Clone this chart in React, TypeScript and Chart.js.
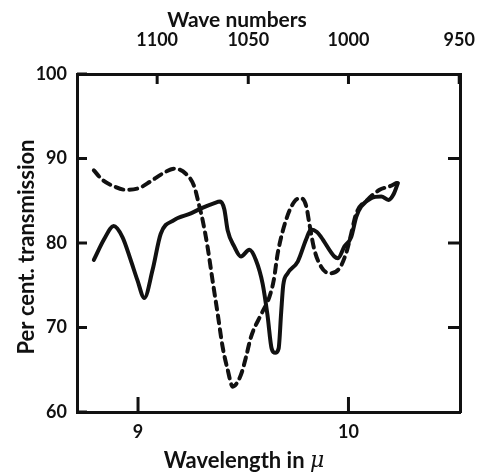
import React, { useEffect, useRef } from "react";
import { Chart, registerables } from "chart.js";

Chart.register(...registerables);

// Wavelength (μ) and per cent transmission, solid curve
const SOLID_WAVELENGTH = [
  8.79, 8.84, 8.884, 8.926, 8.965, 8.997, 9.03, 9.069, 9.108, 9.171, 9.251, 9.3,
  9.36, 9.39, 9.41, 9.426, 9.457, 9.489, 9.529, 9.56, 9.592, 9.615, 9.635, 9.652,
  9.668, 9.68, 9.69, 9.711, 9.759, 9.8, 9.822, 9.85, 9.87, 9.933, 9.95, 9.981,
  10.013, 10.037, 10.06, 10.108, 10.156, 10.19, 10.215, 10.235,
];
const SOLID_TRANSMISSION = [
  78.0, 80.5, 82.0, 80.7, 78.0, 75.6, 73.5, 76.8, 81.1, 82.7, 83.5, 84.1,
  84.7, 84.9, 84.0, 81.5, 79.6, 78.4, 79.2, 78.0, 75.2, 71.5, 67.5, 67.0,
  67.5, 71.7, 75.0, 76.4, 77.8, 80.5, 81.6, 81.3, 80.7, 78.4, 78.2, 79.6,
  80.7, 83.1, 84.3, 85.3, 85.5, 85.1, 85.8, 87.1,
];

// Dashed curve
const DASHED_WAVELENGTH = [
  8.79, 8.83, 8.886, 8.94, 9.005, 9.06, 9.116, 9.171, 9.227, 9.267, 9.29, 9.307,
  9.33, 9.354, 9.378, 9.402, 9.426, 9.45, 9.489, 9.513, 9.537, 9.584, 9.624,
  9.645, 9.664, 9.703, 9.743, 9.775, 9.8, 9.814, 9.838, 9.87, 9.91, 9.957,
  9.989, 10.013, 10.037, 10.09, 10.148, 10.195, 10.227,
];
const DASHED_TRANSMISSION = [
  88.6, 87.5, 86.7, 86.3, 86.5, 87.3, 88.2, 88.8, 88.2, 86.7, 84.5, 82.7,
  79.6, 75.6, 71.7, 67.7, 65.0, 63.0, 64.4, 66.5, 68.9, 71.5, 73.6,
  75.6, 78.8, 82.7, 84.9, 85.3, 84.3, 82.3, 79.2, 77.2, 76.4, 77.0,
  78.8, 81.1, 83.5, 85.1, 86.3, 86.7, 87.1,
];

const WAVELENGTH_TICKS = [9, 10];
const WAVE_NUMBER_TICKS = [1100, 1050, 1000, 950];
const TRANSMISSION_TICKS = [60, 70, 80, 90, 100];
const RIGHT_TICKS = [70, 80, 90];

const X_MIN = 8.71;
const X_MAX = 10.53;
const Y_MIN = 60;
const Y_MAX = 100;

const TOP_TITLE = "Wave numbers";
const BOTTOM_TITLE_TEXT = "Wavelength in ";
const BOTTOM_TITLE_UNIT = "μ";
const LEFT_TITLE = "Per cent. transmission";

const FONT_FAMILY = "Lato, 'Open Sans', sans-serif";
const INK = "#111";

const titlesPlugin = {
  id: "freeTitles",
  afterDraw(chart: any) {
    const ctx = chart.ctx;
    ctx.save();
    ctx.fillStyle = INK;
    ctx.textBaseline = "middle";
    ctx.textAlign = "center";
    ctx.font = `bold 21px ${FONT_FAMILY}`;
    ctx.fillText(TOP_TITLE, 237, 20);

    // bottom title: upright text followed by italic unit
    const fontMain = `bold 22px ${FONT_FAMILY}`;
    const fontUnit = `italic 22px 'DejaVu Serif', serif`;
    ctx.font = fontMain;
    const w1 = ctx.measureText(BOTTOM_TITLE_TEXT).width;
    ctx.font = fontUnit;
    const w2 = ctx.measureText(BOTTOM_TITLE_UNIT).width;
    const startX = 244 - (w1 + w2) / 2;
    ctx.textAlign = "left";
    ctx.font = fontMain;
    ctx.fillText(BOTTOM_TITLE_TEXT, startX, 461);
    ctx.font = fontUnit;
    ctx.fillText(BOTTOM_TITLE_UNIT, startX + w1, 461);

    ctx.textAlign = "center";
    ctx.font = fontMain;
    ctx.translate(27, 247);
    ctx.rotate(-Math.PI / 2);
    ctx.fillText(LEFT_TITLE, 0, 0);
    ctx.restore();
  },
};

const inwardTicksPlugin = {
  id: "inwardTicks",
  afterDatasetsDraw(chart: any) {
    const { ctx, scales, chartArea } = chart;
    const line = (x1: number, y1: number, x2: number, y2: number) => {
      ctx.beginPath();
      ctx.moveTo(x1, y1);
      ctx.lineTo(x2, y2);
      ctx.stroke();
    };
    ctx.save();
    ctx.strokeStyle = INK;
    ctx.lineWidth = 3;
    WAVELENGTH_TICKS.forEach((v) => {
      const px = scales.x.getPixelForValue(v);
      line(px, chartArea.bottom, px, chartArea.bottom - 15);
    });
    WAVE_NUMBER_TICKS.forEach((w) => {
      const px = scales.x2.getPixelForValue(10000 / w);
      line(px, chartArea.top, px, chartArea.top + 10);
    });
    TRANSMISSION_TICKS.forEach((v) => {
      const py = scales.y.getPixelForValue(v);
      line(chartArea.left, py, chartArea.left + 10, py);
    });
    RIGHT_TICKS.forEach((v) => {
      const py = scales.y2.getPixelForValue(v);
      line(chartArea.right, py, chartArea.right - 12, py);
    });
    ctx.restore();
  },
};

function toPoints(xs: number[], ys: number[]) {
  return xs.map((x, i) => ({ x, y: ys[i] }));
}

const axisBase = {
  border: { display: true, color: INK, width: 3 },
  grid: { drawOnChartArea: false, drawTicks: false },
};

function fixSize(prop: "width" | "height", size: number) {
  return (s: any) => {
    s[prop] = size;
    s.paddingLeft = 0;
    s.paddingRight = 0;
    s.paddingTop = 0;
    s.paddingBottom = 0;
  };
}

export default function App() {
  const ref = useRef<HTMLCanvasElement | null>(null);

  useEffect(() => {
    if (!ref.current) return;
    const chart = new Chart(ref.current, {
      type: "line",
      data: {
        datasets: [
          {
            label: "solid",
            data: toPoints(SOLID_WAVELENGTH, SOLID_TRANSMISSION),
            borderColor: INK,
            borderWidth: 4,
            pointRadius: 0,
            cubicInterpolationMode: "monotone",
            borderCapStyle: "round",
            borderJoinStyle: "round",
            fill: false,
          },
          {
            label: "dashed",
            data: toPoints(DASHED_WAVELENGTH, DASHED_TRANSMISSION),
            borderColor: INK,
            borderWidth: 4,
            borderDash: [8, 6],
            pointRadius: 0,
            cubicInterpolationMode: "monotone",
            borderCapStyle: "round",
            fill: false,
          },
        ],
      },
      options: {
        animation: false,
        responsive: false,
        devicePixelRatio: 1,
        layout: { padding: 0 },
        plugins: {
          legend: { display: false },
          tooltip: { enabled: false },
          title: { display: false },
        },
        scales: {
          x: {
            type: "linear",
            position: "bottom",
            min: X_MIN,
            max: X_MAX,
            ...axisBase,
            afterBuildTicks: (s: any) => {
              s.ticks = WAVELENGTH_TICKS.map((v) => ({ value: v }));
            },
            afterFit: fixSize("height", 60),
            ticks: {
              color: INK,
              padding: 9,
              font: { family: FONT_FAMILY, size: 18, weight: "bold" },
              callback: (v: any) => String(v),
            },
          },
          x2: {
            type: "linear",
            position: "top",
            min: X_MIN,
            max: X_MAX,
            ...axisBase,
            afterBuildTicks: (s: any) => {
              s.ticks = WAVE_NUMBER_TICKS.map((w) => ({ value: 10000 / w }));
            },
            afterFit: fixSize("height", 74),
            ticks: {
              color: INK,
              padding: 23,
              font: { family: FONT_FAMILY, size: 18, weight: "bold" },
              callback: (v: any) => String(Math.round(10000 / v)),
            },
          },
          y: {
            type: "linear",
            position: "left",
            min: Y_MIN,
            max: Y_MAX,
            ...axisBase,
            afterBuildTicks: (s: any) => {
              s.ticks = TRANSMISSION_TICKS.map((v) => ({ value: v }));
            },
            afterFit: fixSize("width", 77),
            ticks: {
              color: INK,
              padding: 10,
              font: { family: FONT_FAMILY, size: 18, weight: "bold" },
              callback: (v: any) => String(v),
            },
          },
          y2: {
            type: "linear",
            position: "right",
            min: Y_MIN,
            max: Y_MAX,
            ...axisBase,
            afterBuildTicks: (s: any) => {
              s.ticks = RIGHT_TICKS.map((v) => ({ value: v }));
            },
            afterFit: fixSize("width", 17),
            ticks: { display: false },
          },
        },
      },
      plugins: [inwardTicksPlugin, titlesPlugin],
    });
    return () => chart.destroy();
  }, []);

  return (
    <div style={{ position: "absolute", left: 0, top: 0, width: 477, height: 472, background: "#fff" }}>
      <canvas ref={ref} width={477} height={472} style={{ display: "block" }} />
    </div>
  );
}
